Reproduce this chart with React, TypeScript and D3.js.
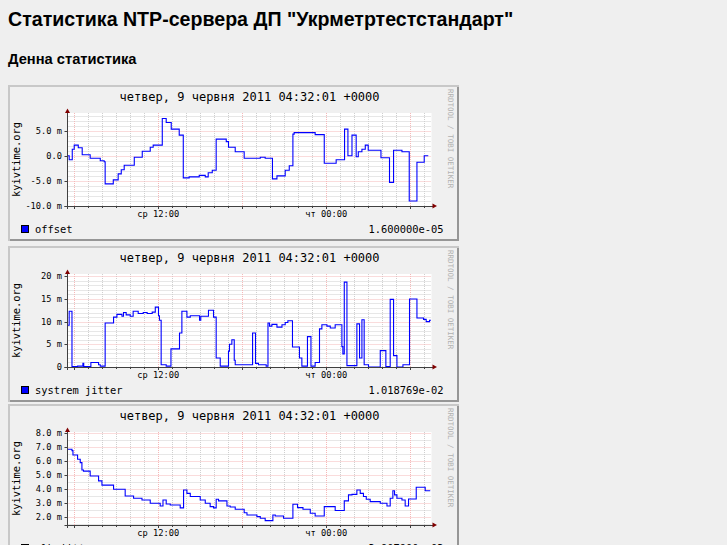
import * as d3 from "d3";

// hours relative to Thu 00:00 (local), the shown window is 26 h
const hoursDomain = [-18.48, 7.52];
const majorHours = [-18, -12, -6, 0, 6];
const minorHours = [-18, -17, -16, -15, -14, -13, -12, -11, -10, -9, -8, -7, -6, -5, -4, -3, -2, -1, 0, 1, 2, 3, 4, 5, 6, 7];
const xLabelHours = [-12, 0];
const xLabels = ["ср 12:00", "чт 00:00"];

const graphTitle = "четвер, 9 червня 2011 04:32:01 +0000";
const yTitle = "kyivtime.org";
const credit = "RRDTOOL / TOBI OETIKER";

// offset, ms
const offsetTicks = [-10, -5, 0, 5];
const offsetTickLabels = ["-10.0 m", "-5.0 m", "0.0", "5.0 m"];
const offsetSteps: [number, number][] = [
  [-18.48, 0.0], [-18.36, -0.8], [-18.14, 1.3], [-18.0, 2.1], [-17.71, 1.6], [-17.43, 0.2],
  [-16.86, -0.5], [-16.14, -1.0], [-15.86, -1.2], [-15.79, -5.6], [-15.21, -4.8], [-14.86, -3.6],
  [-14.64, -2.8], [-14.43, -1.9], [-13.71, -0.3], [-13.14, 0.9], [-12.57, 1.7], [-12.36, 2.1],
  [-11.71, 7.4], [-11.43, 6.6], [-11.07, 5.3], [-10.5, 4.1], [-10.21, -4.4], [-9.79, -4.2],
  [-9.07, -3.9], [-8.64, -4.2], [-8.43, -3.4], [-8.14, -2.9], [-7.86, 3.3], [-7.14, 2.8],
  [-6.98, 1.7], [-6.5, 0.8], [-5.86, -0.5], [-4.71, -0.3], [-4.36, -0.5], [-3.84, -4.6],
  [-3.52, -4.0], [-2.93, -2.9], [-2.64, -2.0], [-2.38, 4.3], [-2.29, 4.6], [-0.79, 4.2],
  [-0.14, -1.5], [0.71, -0.8], [1.31, 5.3], [1.55, 0.0], [1.84, 4.1], [2.14, -0.2],
  [2.29, 0.8], [2.55, 1.3], [2.79, 2.1], [3.0, 1.1], [3.91, -0.4], [4.52, -5.3],
  [4.81, 1.1], [5.41, 0.8], [5.93, -9.0], [6.48, -1.3], [7.0, 0.0], [7.29, 0.0],
];

// system jitter, ms
const jitterTicks = [0, 5, 10, 15, 20];
const jitterTickLabels = ["0", "5 m", "10 m", "15 m", "20 m"];
const jitterSteps: [number, number][] = [
  [-18.48, 9.2], [-18.36, 12.3], [-18.16, 0.1], [-17.76, 0.2], [-17.38, 0.8], [-17.32, 0.1],
  [-16.81, 1.0], [-16.26, 0.5], [-16.14, 0.2], [-15.79, 9.7], [-15.19, 11.0], [-14.95, 11.6],
  [-14.59, 11.2], [-14.48, 12.0], [-14.29, 11.5], [-14.0, 11.2], [-13.79, 12.3], [-13.43, 11.8],
  [-13.07, 12.0], [-12.79, 11.8], [-12.43, 12.1], [-12.21, 13.2], [-11.98, 11.3], [-11.91, 10.3],
  [-11.79, 0.5], [-11.43, 0.2], [-11.09, 4.0], [-10.48, 7.5], [-10.31, 12.3], [-9.95, 11.0],
  [-9.71, 11.3], [-9.05, 10.3], [-8.96, 11.2], [-8.41, 12.5], [-8.05, 11.0], [-7.86, 2.0],
  [-7.57, 0.2], [-6.98, 3.5], [-6.91, 5.0], [-6.74, 6.0], [-6.57, 1.5], [-6.5, 0.5],
  [-5.26, 7.5], [-5.05, 0.8], [-4.84, 0.5], [-4.29, 0.2], [-4.16, 9.7], [-4.05, 9.0],
  [-3.88, 9.4], [-3.52, 8.8], [-3.16, 9.3], [-2.93, 9.8], [-2.74, 10.2], [-2.41, 4.4],
  [-1.91, 2.0], [-1.74, 0.2], [-1.34, 6.7], [-1.09, 0.2], [-0.79, 1.0], [-0.48, 8.4],
  [-0.31, 9.3], [0.05, 9.0], [0.29, 8.6], [0.64, 9.3], [1.12, 4.5], [1.19, 2.9],
  [1.29, 18.7], [1.48, 0.3], [2.19, 9.5], [2.38, 2.0], [2.55, 10.4], [2.71, 0.5],
  [3.02, 0.0], [3.86, 3.6], [4.26, 0.1], [4.57, 14.9], [4.81, 2.5], [5.05, 0.0],
  [5.48, 0.5], [5.95, 15.0], [6.48, 10.8], [6.95, 10.5], [7.14, 10.0], [7.38, 10.3], [7.48, 10.3],
];

// clock jitter, ms
const clkTicks = [2, 3, 4, 5, 6, 7, 8];
const clkTickLabels = ["2.0 m", "3.0 m", "4.0 m", "5.0 m", "6.0 m", "7.0 m", "8.0 m"];
const clkSteps: [number, number][] = [
  [-18.48, 6.86], [-18.16, 6.76], [-18.09, 6.45], [-17.76, 6.14], [-17.57, 5.9], [-17.45, 5.38],
  [-17.34, 5.3], [-16.86, 4.95], [-16.26, 4.6], [-16.02, 4.3], [-15.19, 4.0], [-14.36, 3.52],
  [-13.76, 3.36], [-13.16, 3.24], [-12.57, 3.0], [-11.86, 2.81], [-11.66, 3.24], [-11.43, 2.95],
  [-11.14, 2.88], [-10.43, 2.67], [-10.19, 3.95], [-9.95, 3.71], [-9.71, 3.48], [-9.0, 3.24],
  [-8.64, 3.0], [-8.29, 2.76], [-8.05, 2.67], [-7.86, 3.29], [-7.69, 3.17], [-7.09, 2.81],
  [-6.86, 2.73], [-6.5, 2.57], [-5.86, 2.33], [-5.66, 2.16], [-4.95, 2.05], [-4.71, 1.93],
  [-4.36, 1.76], [-3.81, 2.16], [-3.64, 2.09], [-3.05, 1.93], [-2.38, 2.93], [-2.05, 2.69],
  [-1.66, 2.57], [-1.14, 2.29], [-0.79, 2.09], [-0.14, 2.76], [0.64, 2.48], [1.29, 3.17],
  [1.59, 3.6], [1.84, 3.64], [2.19, 3.95], [2.43, 3.71], [2.66, 3.48], [2.86, 3.29],
  [3.14, 3.12], [3.86, 3.0], [4.34, 2.81], [4.57, 3.36], [4.76, 3.9], [4.88, 3.6],
  [5.05, 3.36], [5.41, 3.24], [5.64, 2.81], [5.88, 3.31], [6.43, 4.14], [7.07, 3.9], [7.43, 3.9],
];

const mono = "'DejaVu Sans Mono', monospace";
const sans = "'Liberation Sans', Arial, sans-serif";

type GraphProps = {
  top: number;
  steps: [number, number][];
  domain: [number, number];
  ticks: number[];
  tickLabels: string[];
  minorStep: number;
  legend: string;
  value: string;
};

function Graph({ top, steps, domain, ticks, tickLabels, minorStep, legend, value }: GraphProps) {
  const left = 8;
  const W = 451;
  const H = 156;
  const x = d3.scaleLinear().domain(hoursDomain).range([left + 59.5, left + 423.5]);
  const y = d3.scaleLinear().domain(domain).range([top + 121, top + 28]);
  const [x0, x1] = x.range();
  const [yb, yt] = y.range();

  const minorY = d3
    .range(Math.ceil(domain[0] / minorStep) * minorStep, domain[1], minorStep)
    .filter((v) => !ticks.some((t) => Math.abs(t - v) < 1e-6));

  const line = d3
    .line<[number, number]>()
    .x((d) => x(d[0]))
    .y((d) => y(d[1]))
    .curve(d3.curveStepAfter);

  const cx = (x0 + x1) / 2;
  const px = (v: number) => Math.round(v) + 0.5;
  return (
    <g>
      <rect x={left} y={top} width={W} height={H} fill="#f0f0f0" />
      <path d={`M${left + 1},${top + H} V${top + 1} H${left + W}`} stroke="#c8c8c8" strokeWidth={2} fill="none" />
      <path d={`M${left + W - 1},${top + 2} V${top + H - 1} H${left + 2}`} stroke="#969696" strokeWidth={2} fill="none" />

      <text x={cx} y={top + 16} textAnchor="middle" fontFamily={mono} fontSize={12}>
        {graphTitle}
      </text>

      <rect x={x0} y={yt} width={x1 - x0} height={yb - yt} fill="#ffffff" />

      {minorHours.map((h) => (
        <line key={"mh" + h} x1={px(x(h))} x2={px(x(h))} y1={yt} y2={yb} stroke="#cfcfcf" strokeDasharray="1,1" />
      ))}
      {minorY.map((v) => (
        <line key={"mv" + v} x1={x0} x2={x1} y1={px(y(v))} y2={px(y(v))} stroke="#cfcfcf" strokeDasharray="1,1" />
      ))}
      {majorHours.map((h) => (
        <line key={"Mh" + h} x1={px(x(h))} x2={px(x(h))} y1={yt} y2={yb} stroke="#f5b8b8" strokeDasharray="1,1" />
      ))}
      {ticks.map((v) => (
        <line key={"Mv" + v} x1={x0} x2={x1} y1={px(y(v))} y2={px(y(v))} stroke="#f5b8b8" strokeDasharray="1,1" />
      ))}

      <path d={line(steps) ?? ""} fill="none" stroke="#0000ff" strokeWidth={1.1} />

      {/* axes */}
      <line x1={x0 - 3} x2={x1 + 2} y1={px(yb)} y2={px(yb)} stroke="#404040" />
      <line x1={x0} x2={x0} y1={yt - 3} y2={yb + 3} stroke="#404040" />
      {ticks.map((v) => (
        <line key={"t" + v} x1={x0 - 3} x2={x0} y1={px(y(v))} y2={px(y(v))} stroke="#404040" />
      ))}
      {minorHours.map((h) => (
        <line key={"th" + h} x1={px(x(h))} x2={px(x(h))} y1={yb} y2={yb + (h % 6 === 0 ? 3 : 2)} stroke="#404040" />
      ))}
      <path d={`M${x0 - 2.5},${yt} L${x0 + 2.5},${yt} L${x0},${yt - 4.5} Z`} fill="#800000" />
      <path d={`M${x1 + 1},${yb - 2.5} L${x1 + 1},${yb + 2.5} L${x1 + 5.5},${yb} Z`} fill="#800000" />

      {ticks.map((v, i) => (
        <text key={"l" + v} x={left + 54} y={y(v) + 3} textAnchor="end" fontFamily={mono} fontSize={8.7}>
          {tickLabels[i]}
        </text>
      ))}
      {xLabelHours.map((h, i) => (
        <text key={"xl" + h} x={x(h)} y={yb + 11} textAnchor="middle" fontFamily={mono} fontSize={8.7}>
          {xLabels[i]}
        </text>
      ))}

      <text transform={`translate(${left + 12},${(yt + yb) / 2}) rotate(-90)`} textAnchor="middle"
        fontFamily={mono} fontSize={10.4}>
        {yTitle}
      </text>
      <text transform={`translate(${left + 439.5},${top + 4}) rotate(90)`} fontFamily={mono} fontSize={7.5}
        fill="#b0b0b0">
        {credit}
      </text>

      <rect x={left + 13.5} y={top + 140.5} width={7} height={7} fill="#0000ff" stroke="#000" />
      <text x={left + 27} y={top + 147.5} fontFamily={mono} fontSize={10.4}>
        {legend}
      </text>
      <text x={left + 435.5} y={top + 147.5} textAnchor="end" fontFamily={mono} fontSize={10.4}>
        {value}
      </text>
    </g>
  );
}

export default function App() {
  return (
    <svg width={727} height={545} style={{ position: "fixed", left: 0, top: 0 }}>
      <rect width={727} height={545} fill="#efefef" />
      <text x={8} y={26} fontFamily={sans} fontWeight="bold" fontSize={19.6}>
        Статистика NTP-сервера ДП "Укрметртестстандарт"
      </text>
      <text x={8} y={63.5} fontFamily={sans} fontWeight="bold" fontSize={14.7}>
        Денна статистика
      </text>
      <Graph top={85} steps={offsetSteps} domain={[-10, 8.5]} ticks={offsetTicks} tickLabels={offsetTickLabels}
        minorStep={1} legend="offset" value="1.600000e-05" />
      <Graph top={246} steps={jitterSteps} domain={[0, 20.5]} ticks={jitterTicks} tickLabels={jitterTickLabels}
        minorStep={1} legend="systrem jitter" value="1.018769e-02" />
      <Graph top={404} steps={clkSteps} domain={[1.45, 8.09]} ticks={clkTicks} tickLabels={clkTickLabels}
        minorStep={0.5} legend="clk jitter" value="3.907900e-03" />
    </svg>
  );
}
